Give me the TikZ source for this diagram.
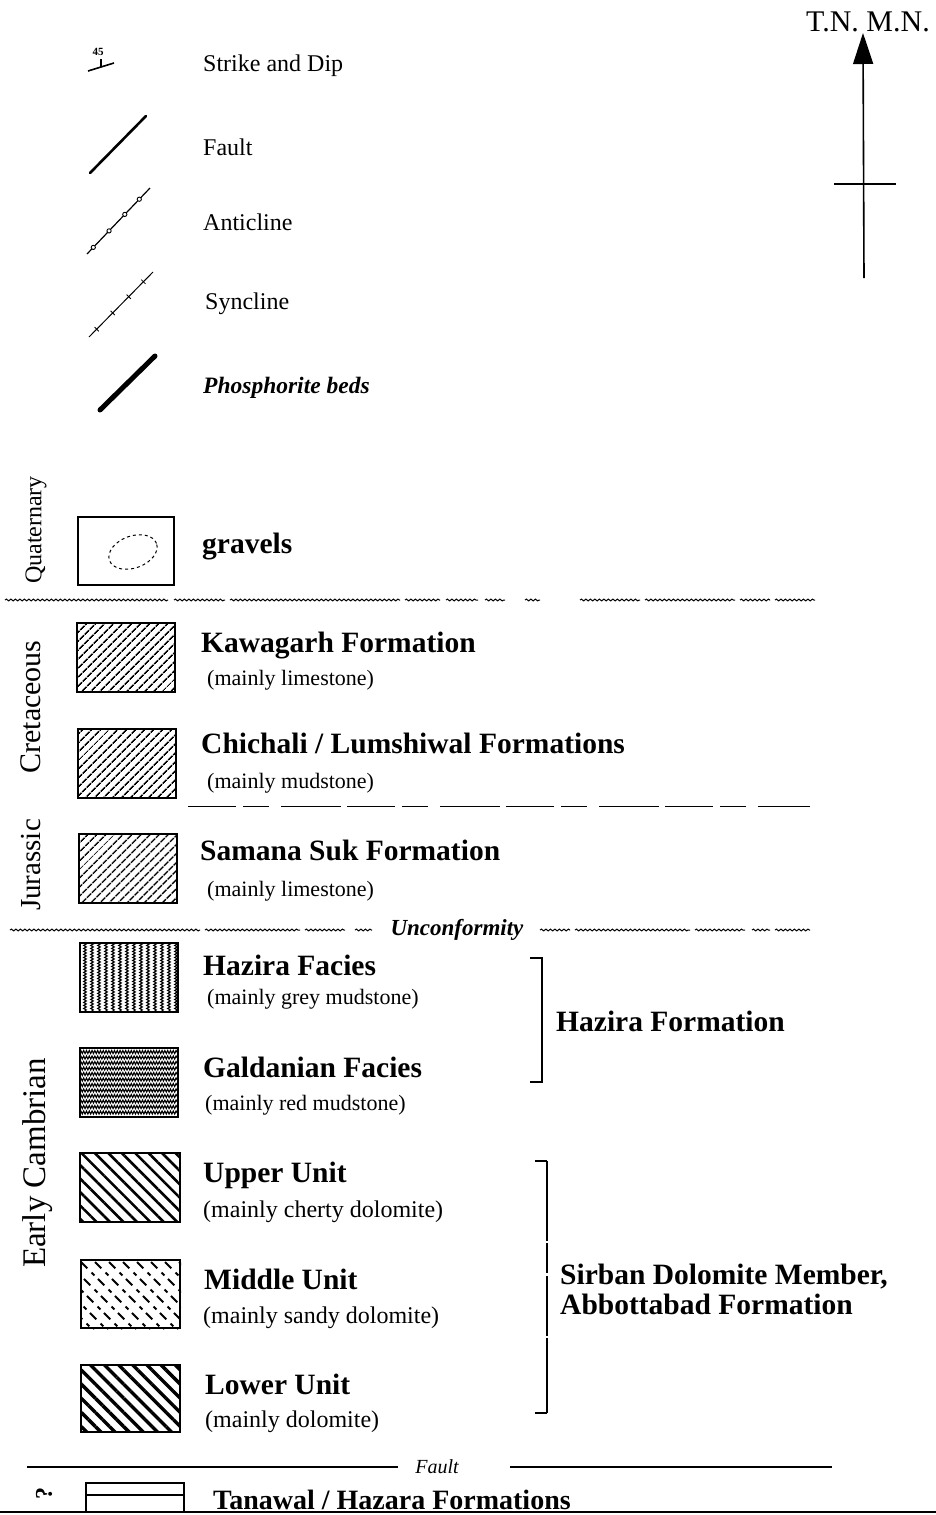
\documentclass[tikz,border=0pt]{standalone}
\usepackage{fontspec}
\setmainfont{Liberation Serif}
\usetikzlibrary{arrows.meta,patterns.meta,decorations.pathmorphing}

\begin{document}
\begin{tikzpicture}[x=1pt, y=-1pt,
    key/.style={anchor=base west, inner sep=0pt, font=\fontsize{24}{26}\selectfont},
    head/.style={anchor=base west, inner sep=0pt, font=\fontsize{29.5}{31}\selectfont\bfseries},
    sub/.style={anchor=base west, inner sep=0pt, font=\fontsize{22}{24}\selectfont},
    era/.style={rotate=90, inner sep=0pt},
    unitbox/.style={draw, line width=2pt, minimum width=98pt, minimum height=69pt, inner sep=0pt},
    wavy/.style={decorate, decoration={snake, amplitude=0.9pt, segment length=4.5pt}, line width=1pt},
    wiggle/.style={decorate, decoration={snake, amplitude=1.3pt, segment length=3pt}, line width=1.1pt},
    tickmark/.style={draw, sloped, minimum width=0pt, minimum height=6pt, inner sep=0pt, line width=0.8pt},
    ringmark/.style={circle, draw, fill=white, inner sep=1.5pt, line width=0.9pt}]
  \useasboundingbox (0,0) rectangle (936,1515);

  % map symbols
  \coordinate (sd1) at (88,71);  \coordinate (sd2) at (114,63);
  \coordinate (sdm) at (101,67); \coordinate (sdt) at (101,59);
  \draw[line width=1.6pt] (sd1) -- (sd2);
  \draw[line width=1.2pt] (sdm) -- (sdt);
  \node[inner sep=0pt, font=\fontsize{11}{11}\selectfont\bfseries] (dip) at (98,52) {45};
  \node[key] (strike) at (203,71) {Strike and Dip};

  \coordinate (fa1) at (90,173); \coordinate (fa2) at (146,116);
  \draw[line width=2.6pt, line cap=round] (fa1) -- (fa2);
  \node[key] (fault) at (203,155) {Fault};

  \coordinate (an1) at (87,254); \coordinate (an2) at (150,188);
  \draw[line width=1.2pt] (an1) -- (an2)
    \foreach \t [count=\i] in {0.1,0.35,0.6,0.83} { node[ringmark, pos=\t] (ring\i) {} };
  \node[key] (anti) at (203,230) {Anticline};

  \coordinate (sy1) at (89,337); \coordinate (sy2) at (153,272);
  \draw[line width=1pt] (sy1) -- (sy2)
    \foreach \t [count=\i] in {0.12,0.37,0.62,0.85} { node[tickmark, pos=\t] (tick\i) {} };
  \node[key] (syn) at (205,309) {Syncline};

  \coordinate (ph1) at (100,410); \coordinate (ph2) at (155,356);
  \draw[line width=5pt, line cap=round] (ph1) -- (ph2);
  \node[key, font=\fontsize{23.5}{26}\selectfont\bfseries\itshape] (phos) at (203,393) {Phosphorite beds};

  % north arrow
  \node[inner sep=0pt, font=\fontsize{30}{32}\selectfont] (north) at (868,22) {T.N. M.N.};
  \coordinate (ntail) at (864,278); \coordinate (ntip) at (863,33);
  \coordinate (bar1) at (834,184);  \coordinate (bar2) at (896,184);
  \draw[line width=1.6pt, -{Triangle[length=31pt, width=20pt]}] (ntail) -- (ntip);
  \draw[line width=1.2pt] (bar1) -- (bar2);

  % periods
  \node[era, font=\fontsize{24}{24}\selectfont] (quat) at (36,530) {Quaternary};
  \node[era, font=\fontsize{30}{30}\selectfont] (cret) at (31,707) {Cretaceous};
  \node[era, font=\fontsize{29}{29}\selectfont] (jura) at (31,865) {Jurassic};
  \node[era, font=\fontsize{33}{33}\selectfont] (camb) at (38,1163) {Early Cambrian};

  % boundaries
  \foreach \a/\b in {5/168,174/225,230/400,405/440,446/478,485/505,525/540,580/640,645/735,740/770,775/815}
    \draw[wavy] (\a,600) -- (\b,600);
  \draw[line width=1pt, dash pattern=on 48pt off 7pt on 26pt off 12pt on 60pt off 6pt]
    (188,806) -- (810,806);
  \node[inner sep=0pt, font=\fontsize{23}{25}\selectfont\bfseries\itshape] (uncon) at (457,930) {Unconformity};
  \foreach \a/\b in {10/200,205/300,305/345,355/372,540/570,575/690,695/745,752/770,775/810}
    \draw[wavy] (\a,930) -- (\b,930);

  % quaternary
  \node[unitbox, minimum width=96pt, minimum height=68pt] (gravbox) at (126,551) {};
  \draw[dashed, line width=1pt, rotate around={20:(133,552)}] (133,552) ellipse (25pt and 16pt);
  \node[head] (grav) at (202,553) {gravels};

  % cretaceous and jurassic
  \node[unitbox, pattern={Lines[angle=45, distance=6.5pt, line width=1.7pt]}] (kawbox) at (126,657) {};
  \node[head] (kaw) at (201,652) {Kawagarh Formation};
  \node[sub] (kawsub) at (207,685) {(mainly limestone)};

  \node[unitbox, pattern={Lines[angle=45, distance=6.5pt, line width=1.7pt]}] (chibox) at (127,763) {};
  \node[head] (chi) at (201,753) {Chichali / Lumshiwal Formations};
  \node[sub] (chisub) at (207,788) {(mainly mudstone)};

  \node[unitbox, pattern={Lines[angle=45, distance=6.5pt, line width=1.7pt]}] (sambox) at (127.5,868.5) {};
  \node[head] (sam) at (200,860) {Samana Suk Formation};
  \node[sub] (samsub) at (207,896) {(mainly limestone)};

  % hazira formation
  \node[unitbox] (hazbox) at (129,977) {};
  \begin{scope}
    \clip (hazbox.south west) rectangle (hazbox.north east);
    \foreach \x in {85,92,...,176}
      \draw[wiggle] (\x,943) -- (\x,1011);
  \end{scope}
  \node[unitbox] at (hazbox) {};
  \node[head] (haz) at (203,975) {Hazira Facies};
  \node[sub] (hazsub) at (207,1004) {(mainly grey mudstone)};

  \node[unitbox] (galbox) at (129,1082) {};
  \begin{scope}
    \clip (galbox.south west) rectangle (galbox.north east);
    \foreach \y in {1052,1057.5,...,1114}
      \draw[wiggle, decoration={amplitude=1.5pt, segment length=2.8pt}] (80,\y) -- (178,\y);
  \end{scope}
  \node[unitbox] at (galbox) {};
  \node[head] (gal) at (203,1077) {Galdanian Facies};
  \node[sub] (galsub) at (205,1110) {(mainly red mudstone)};

  \coordinate (hb1) at (530,958);  \coordinate (hb2) at (542,958);
  \coordinate (hb3) at (542,1082); \coordinate (hb4) at (530,1082);
  \draw[line width=1.2pt] (hb1) -- (hb2) -- (hb3) -- (hb4);
  \node[head] (hazform) at (556,1031) {Hazira Formation};

  % sirban dolomite
  \node[unitbox, minimum width=100pt, pattern={Lines[angle=-45, distance=9.5pt, line width=2.6pt]}] (upbox) at (130,1187.5) {};
  \node[head] (up) at (203,1182) {Upper Unit};
  \node[sub, font=\fontsize{24}{26}\selectfont] (upsub) at (203,1217) {(mainly cherty dolomite)};

  \node[unitbox, minimum width=99pt, minimum height=68pt] (midbox) at (130.5,1294) {};
  \begin{scope}
    \clip (midbox.south west) rectangle (midbox.north east);
    \foreach \d in {-56,-42,...,112}
      \draw[line width=1.8pt, dash pattern=on 9pt off 6pt on 4pt off 5pt] (81+\d,1262) -- ++(72,72);
  \end{scope}
  \node[unitbox, minimum width=99pt, minimum height=68pt] at (midbox) {};
  \node[head] (mid) at (204,1289) {Middle Unit};
  \node[sub, font=\fontsize{24}{26}\selectfont] (midsub) at (203,1323) {(mainly sandy dolomite)};

  \node[unitbox, minimum width=99pt, minimum height=67pt, pattern={Lines[angle=-45, distance=10pt, line width=3.4pt]}] (lowbox) at (130.5,1398.5) {};
  \node[head] (low) at (205,1394) {Lower Unit};
  \node[sub, font=\fontsize{24}{26}\selectfont] (lowsub) at (205,1427) {(mainly dolomite)};

  \coordinate (sb1) at (535,1161);  \coordinate (sb2) at (547,1161);
  \coordinate (sb3) at (547,1413); \coordinate (sb4) at (535,1413);
  \draw[line width=1.2pt] (sb1) -- (sb2);
  \draw[line width=1.2pt, dash pattern=on 80pt off 2pt on 30pt off 3pt on 60pt off 2pt] (sb2) -- (sb3);
  \draw[line width=1.2pt] (sb3) -- (sb4);
  \node[head] (sirb) at (560,1284) {Sirban Dolomite Member,};
  \node[head] (abbt) at (560,1314) {Abbottabad Formation};

  % fault and basement
  \node[inner sep=0pt, font=\fontsize{20}{22}\selectfont\itshape] (faultlbl) at (437,1467) {Fault};
  \coordinate (fl1) at (27,1467);  \coordinate (fl2) at (398,1467);
  \coordinate (fl3) at (510,1467); \coordinate (fl4) at (832,1467);
  \draw[line width=1.6pt] (fl1) -- (fl2);
  \draw[line width=1.6pt] (fl3) -- (fl4);

  \node[era, font=\fontsize{24}{24}\selectfont\bfseries] (query) at (44,1493) {?};
  \node[draw, line width=1.8pt, minimum width=98pt, minimum height=29pt, inner sep=0pt] (tanbox) at (135,1497.5) {};
  \coordinate (tl1) at (86,1495); \coordinate (tl2) at (184,1495);
  \draw[line width=1.2pt] (tl1) -- (tl2);
  \node[head, font=\fontsize{28}{30}\selectfont\bfseries] (tan) at (213,1509) {Tanawal / Hazara Formations};
  \coordinate (base1) at (0,1512); \coordinate (base2) at (936,1512);
  \draw[line width=2pt] (base1) -- (base2);
\end{tikzpicture}
\end{document}
